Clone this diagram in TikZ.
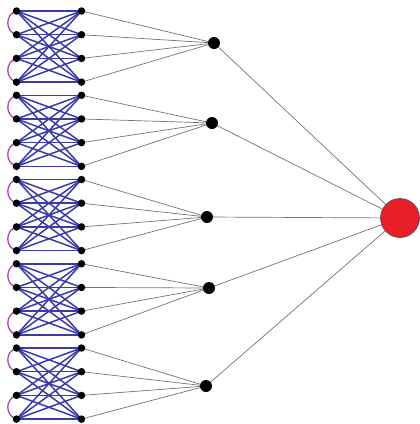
\documentclass[tikz,border=0pt]{standalone}
\usetikzlibrary{backgrounds}
\begin{document}
\begin{tikzpicture}[x=1pt,y=-1pt,
  dot/.style={circle,fill=black,inner sep=0pt,minimum size=7.5pt},
  hub/.style={circle,fill=black,inner sep=0pt,minimum size=12pt},
  root/.style={circle,fill=rootred,draw=black!70,line width=0.6pt,inner sep=0pt,minimum size=39pt},
  mesh/.style={draw=meshblue,line width=1.5pt},
  pair/.style={draw=pairpurple,line width=1.3pt},
  link/.style={draw=black!55,line width=0.7pt}]
\definecolor{meshblue}{RGB}{58,58,168}
\definecolor{pairpurple}{RGB}{178,70,178}
\definecolor{rootred}{RGB}{232,30,40}
\useasboundingbox (0,0) rectangle (420,424);

% output node
\node[root] (root) at (400,218) {};

% hub positions
\foreach \b/\hx/\hy in {0/214/43, 1/212/123, 2/207/217, 3/209/288, 4/206/386}{
  \node[hub] (h\b) at (\hx,\hy) {};
}

\foreach \b in {0,...,4}{
  % four input and four output dots per block
  \foreach \i in {0,...,3}{
    \pgfmathsetmacro{\yy}{11+84.25*\b+23.7*\i}
    \node[dot] (l\b-\i) at (16.5,\yy) {};
    \node[dot] (r\b-\i) at (81.5,\yy) {};
  }
}

\begin{scope}[on background layer]
\foreach \b in {0,...,4}{
  % complete bipartite mesh
  \foreach \i in {0,...,3}{
    \foreach \j in {0,...,3}{
      \draw[mesh] (l\b-\i.center) -- (r\b-\j.center);
    }
  }
  % paired inputs
  \draw[pair] (l\b-0.center) to[out=195,in=165,looseness=1.3] (l\b-1.center);
  \draw[pair] (l\b-2.center) to[out=195,in=165,looseness=1.3] (l\b-3.center);
  % outputs to hub, hub to root
  \foreach \i in {0,...,3}{
    \draw[link] (r\b-\i.center) -- (h\b.center);
  }
  \draw[link] (h\b.center) -- (root.center);
}
\end{scope}
\end{tikzpicture}
\end{document}
